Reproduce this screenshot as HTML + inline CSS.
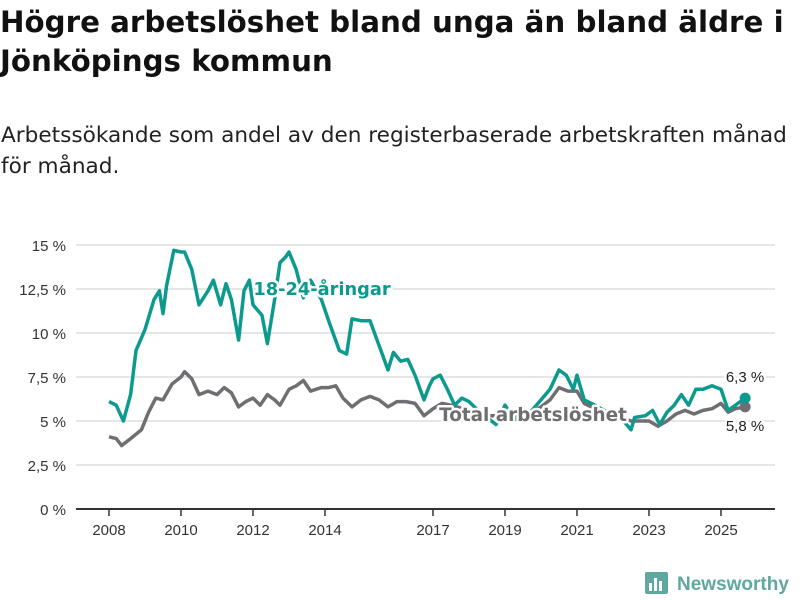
<!DOCTYPE html>
<html><head><meta charset="utf-8">
<style>
body{margin:0;width:800px;height:600px;background:#fff;font-family:"DejaVu Sans",sans-serif;overflow:hidden;position:relative;color:#111}
h1{position:absolute;left:0px;top:3px;margin:0;font-size:29.3px;line-height:39px;font-weight:bold;white-space:nowrap}
.sub{position:absolute;left:1px;top:120px;font-size:21.6px;line-height:31px;color:#222;white-space:nowrap}
svg{position:absolute;left:0;top:0}
</style></head><body>
<h1>Högre arbetslöshet bland unga än bland äldre i<br>Jönköpings kommun</h1>
<div class="sub">Arbetssökande som andel av den registerbaserade arbetskraften månad<br>för månad.</div>
<svg id="c" width="800" height="600"></svg>
<script>
const yTicks=[0,2.5,5,7.5,10,12.5,15];
const yTickLabels=["0 %","2,5 %","5 %","7,5 %","10 %","12,5 %","15 %"];
const xTicks=[2008,2010,2012,2014,2017,2019,2021,2023,2025];
const youthT=[2008.0,2008.2,2008.4,2008.6,2008.75,2009.0,2009.25,2009.4,2009.5,2009.6,2009.8,2010.0,2010.1,2010.3,2010.5,2010.75,2010.9,2011.1,2011.25,2011.4,2011.6,2011.75,2011.9,2012.0,2012.25,2012.4,2012.6,2012.75,2012.9,2013.0,2013.2,2013.4,2013.6,2013.9,2014.1,2014.4,2014.6,2014.75,2015.0,2015.25,2015.5,2015.75,2015.9,2016.1,2016.3,2016.5,2016.75,2016.9,2017.0,2017.2,2017.4,2017.6,2017.8,2018.0,2018.25,2018.5,2018.75,2019.0,2019.25,2019.5,2019.75,2020.0,2020.25,2020.5,2020.7,2020.9,2021.0,2021.2,2021.5,2021.75,2022.0,2022.25,2022.5,2022.6,2022.9,2023.1,2023.3,2023.5,2023.7,2023.9,2024.1,2024.3,2024.5,2024.75,2025.0,2025.2,2025.4,2025.67];
const youthV=[6.1,5.9,5.0,6.5,9.0,10.2,11.9,12.4,11.1,12.7,14.7,14.6,14.6,13.6,11.6,12.4,13.0,11.6,12.8,11.9,9.6,12.4,13.0,11.6,11.0,9.4,11.9,14.0,14.3,14.6,13.6,12.0,13.0,11.9,10.7,9.0,8.8,10.8,10.7,10.7,9.3,7.9,8.9,8.4,8.5,7.6,6.2,7.0,7.4,7.6,6.8,5.9,6.3,6.1,5.6,5.2,4.8,5.9,5.1,5.1,5.6,6.2,6.8,7.9,7.6,6.8,7.6,6.2,5.9,5.6,5.3,5.1,4.5,5.2,5.3,5.6,4.8,5.5,5.9,6.5,5.9,6.8,6.8,7.0,6.8,5.6,5.9,6.3];
const totalT=[2008.0,2008.2,2008.35,2008.6,2008.9,2009.1,2009.3,2009.5,2009.75,2010.0,2010.1,2010.3,2010.5,2010.75,2011.0,2011.2,2011.4,2011.6,2011.8,2012.0,2012.2,2012.4,2012.6,2012.75,2013.0,2013.2,2013.4,2013.6,2013.9,2014.1,2014.3,2014.5,2014.75,2015.0,2015.25,2015.5,2015.75,2016.0,2016.25,2016.5,2016.75,2017.0,2017.25,2017.5,2018.0,2018.5,2019.0,2019.5,2020.0,2020.25,2020.5,2020.75,2021.0,2021.2,2021.5,2022.0,2022.5,2022.75,2023.0,2023.25,2023.5,2023.75,2024.0,2024.25,2024.5,2024.75,2025.0,2025.2,2025.4,2025.67];
const totalV=[4.1,4.0,3.6,4.0,4.5,5.5,6.3,6.2,7.1,7.5,7.8,7.4,6.5,6.7,6.5,6.9,6.6,5.8,6.1,6.3,5.9,6.5,6.2,5.9,6.8,7.0,7.3,6.7,6.9,6.9,7.0,6.3,5.8,6.2,6.4,6.2,5.8,6.1,6.1,6.0,5.3,5.7,6.0,5.9,5.6,5.3,5.3,5.2,5.8,6.2,6.9,6.7,6.7,6.0,5.7,5.4,5.0,5.0,5.0,4.7,5.0,5.4,5.6,5.4,5.6,5.7,6.0,5.5,5.7,5.8];
const NS='http://www.w3.org/2000/svg';
const svg=document.getElementById('c');
const X=t=>109+(t-2008)*36;
const Y=v=>509-v*17.6;
function mk(tag,attrs,parent){const e=document.createElementNS(NS,tag);for(const k in attrs)e.setAttribute(k,attrs[k]);(parent||svg).appendChild(e);return e;}
yTicks.forEach((v,i)=>{
  if(v>0){const g=mk('line',{x1:76,x2:775,y1:Y(v),y2:Y(v),stroke:'#ddd','stroke-width':1.5});
  
  }
  const t=mk('text',{x:66,y:Y(v)+6,'text-anchor':'end','font-size':15,fill:'#333','font-family':'Liberation Sans, sans-serif'});
  t.textContent=yTickLabels[i];
  
  
});
const ax=mk('line',{x1:76,x2:775,y1:509,y2:509,stroke:'#333','stroke-width':2});


xTicks.forEach(yr=>{
  const tk=mk('line',{x1:X(yr),x2:X(yr),y1:509,y2:516,stroke:'#333','stroke-width':1.5});
  
  
  const t=mk('text',{x:X(yr),y:535,'text-anchor':'middle','font-size':15,fill:'#333','font-family':'Liberation Sans, sans-serif'});
  t.textContent=yr;
  
  
});
function path(T,V){return T.map((t,i)=>(i?'L':'M')+X(t).toFixed(1)+','+Y(V[i]).toFixed(1)).join('');}
const pt=mk('path',{d:path(totalT,totalV),fill:'none',stroke:'#6e6e73','stroke-width':3.5,'stroke-linejoin':'round'});


const py=mk('path',{d:path(youthT,youthV),fill:'none',stroke:'#0d9a8e','stroke-width':3.5,'stroke-linejoin':'round'});


const lt=totalT.length-1, ly=youthT.length-1;
const dt=mk('circle',{cx:X(totalT[lt]),cy:Y(totalV[lt]),r:5.5,fill:'#6e6e73'});


const dy=mk('circle',{cx:X(youthT[ly]),cy:Y(youthV[ly]),r:5.5,fill:'#0d9a8e'});


function label(txt,x,y,fill,size,weight,anchor,halo,name,fam){
  const t=mk('text',{x:x,y:y,'text-anchor':anchor,'font-size':size,'font-weight':weight,fill:fill,'font-family':fam,stroke:halo?'#fff':'none','stroke-width':halo?5:0,'paint-order':'stroke','stroke-linejoin':'round'});
  t.textContent=txt;
  
  
}
label('18-24-åringar',322,295,'#0d9a8e',17.8,'bold','middle',true,'youth-series-label','DejaVu Sans, sans-serif');
label('Total arbetslöshet',533,421,'#6e6e73',18.4,'bold','middle',true,'total-series-label','DejaVu Sans, sans-serif');
label('6,3 %',745,382,'#222',15,'normal','middle',true,'youth-end-value','Liberation Sans, sans-serif');
label('5,8 %',745,431,'#222',15,'normal','middle',true,'total-end-value','Liberation Sans, sans-serif');
const lg=mk('g',{});


mk('rect',{x:645,y:572,width:23,height:22,rx:2,fill:'#5fa8a0'},lg);
mk('rect',{x:649,y:583,width:3,height:8,fill:'#fff'},lg);
mk('rect',{x:654,y:578,width:3,height:13,fill:'#fff'},lg);
mk('rect',{x:659,y:581,width:3,height:10,fill:'#fff'},lg);
const lt2=mk('text',{x:677,y:590,'font-size':19,'font-weight':'bold',fill:'#5fa8a0','font-family':'Liberation Sans, sans-serif'},lg);
lt2.textContent='Newsworthy';
</script>
</body></html>
